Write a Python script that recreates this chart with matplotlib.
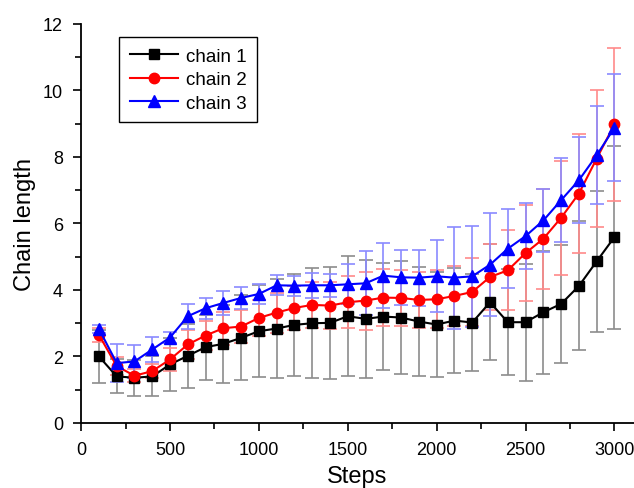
import numpy as np
import matplotlib
matplotlib.use("Agg")
import matplotlib.pyplot as plt
from matplotlib.ticker import MultipleLocator

plt.rcParams['font.family'] = ['Liberation Sans', 'DejaVu Sans']

# pasos de simulacion
steps = np.arange(100, 3001, 100)

# longitud media de cadena y desviacion para cada cadena
chain1 = [2.0, 1.4, 1.36, 1.4, 1.76, 2.02, 2.28, 2.38, 2.56, 2.76,
          2.84, 2.95, 3.0, 3.01, 3.21, 3.13, 3.2, 3.17, 3.05, 2.96,
          3.08, 3.02, 3.63, 3.03, 3.03, 3.33, 3.58, 4.12, 4.86, 5.59]
chain1_err = [0.81, 0.51, 0.54, 0.6, 0.8, 0.96, 0.98, 1.18, 1.28, 1.38,
              1.5, 1.53, 1.65, 1.69, 1.8, 1.78, 1.6, 1.71, 1.63, 1.57,
              1.58, 1.46, 1.75, 1.6, 1.76, 1.85, 1.77, 1.94, 2.13, 2.75]

chain2 = [2.65, 1.71, 1.42, 1.56, 1.91, 2.36, 2.63, 2.85, 2.9, 3.16,
          3.32, 3.46, 3.55, 3.53, 3.63, 3.68, 3.77, 3.76, 3.7, 3.72,
          3.82, 3.94, 4.39, 4.59, 5.11, 5.54, 6.17, 6.9, 7.95, 8.98]
chain2_err = [0.22, 0.28, 0.2, 0.22, 0.35, 0.45, 0.45, 0.5, 0.5, 0.55,
              0.6, 0.65, 0.7, 0.7, 0.78, 0.87, 0.85, 0.85, 0.85, 0.87,
              0.9, 1.03, 1.0, 1.2, 1.45, 1.5, 1.72, 1.78, 2.07, 2.3]

chain3 = [2.83, 1.8, 1.85, 2.21, 2.57, 3.21, 3.45, 3.61, 3.76, 3.88,
          4.14, 4.13, 4.14, 4.14, 4.17, 4.2, 4.43, 4.38, 4.37, 4.41,
          4.37, 4.41, 4.76, 5.24, 5.62, 6.09, 6.7, 7.3, 8.05, 8.88]
chain3_err = [0.13, 0.56, 0.5, 0.39, 0.17, 0.37, 0.31, 0.37, 0.32, 0.3,
              0.3, 0.3, 0.38, 0.35, 0.6, 0.96, 0.97, 0.83, 0.84, 1.08,
              1.53, 1.52, 1.55, 1.18, 0.98, 0.94, 1.27, 1.3, 1.48, 1.6]

series = [
    ("chain 1", chain1, chain1_err, "black", "#8c8c8c", "s", 6.5),
    ("chain 2", chain2, chain2_err, "red", "#ff8a8a", "o", 7.5),
    ("chain 3", chain3, chain3_err, "blue", "#8a8aff", "^", 8),
]

fig = plt.figure(figsize=(6.34, 4.89), dpi=100)
ax = fig.add_axes([0.128, 0.133, 0.872, 0.816])

# barras de error primero, debajo de todas las curvas
for label, y, yerr, color, ecolor, marker, ms in series:
    ax.errorbar(steps, y, yerr=yerr, fmt="none", ecolor=ecolor,
                elinewidth=1.2, capsize=5, capthick=1.2, zorder=1)

for label, y, yerr, color, ecolor, marker, ms in series:
    ax.plot(steps, y, color=color, marker=marker, markersize=ms,
            linewidth=1.5, label=label, zorder=3)

ax.set_xlim(0, 3110)
ax.set_ylim(0, 12)
ax.xaxis.set_major_locator(MultipleLocator(500))
ax.xaxis.set_minor_locator(MultipleLocator(250))
ax.yaxis.set_major_locator(MultipleLocator(2))
ax.yaxis.set_minor_locator(MultipleLocator(1))

ax.spines['top'].set_visible(False)
ax.spines['right'].set_visible(False)
ax.spines['left'].set_linewidth(1.3)
ax.spines['bottom'].set_linewidth(1.3)
ax.tick_params(which='major', direction='out', length=6, width=1.2,
               labelsize=13, pad=7)
ax.tick_params(which='minor', direction='out', length=4, width=1.2)

ax.set_xlabel("Steps", fontsize=17, labelpad=5)
ax.set_ylabel("Chain length", fontsize=17, labelpad=5)

leg = ax.legend(loc='upper left', bbox_to_anchor=(0.069, 0.967),
                borderaxespad=0, fontsize=13.5, handlelength=2.6,
                fancybox=False, framealpha=1, edgecolor='black',
                labelspacing=0.35, handletextpad=0.4, borderpad=0.55)
leg.get_frame().set_linewidth(1.0)

fig.savefig("out.png", dpi=100)
